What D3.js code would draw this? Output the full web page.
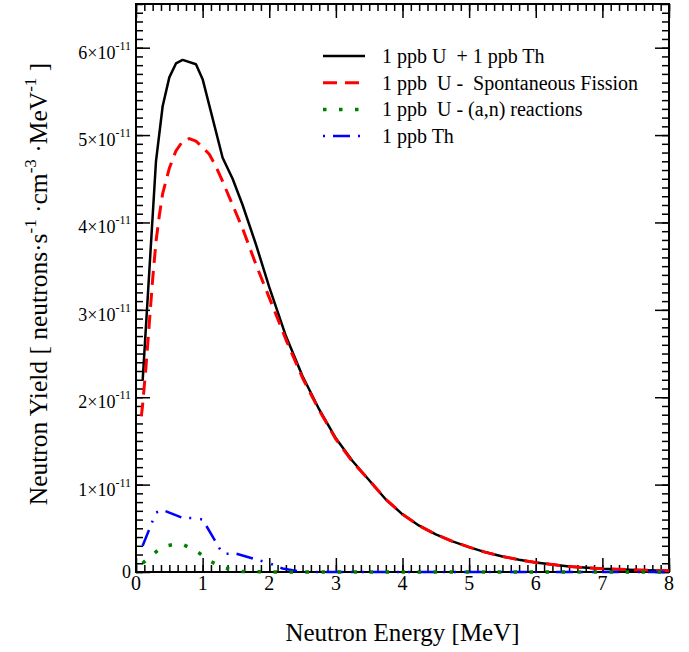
<!DOCTYPE html>
<html>
<head>
<meta charset="utf-8">
<script src="https://cdn.jsdelivr.net/npm/d3@7"></script>
<style>
    body { margin: 0; background: #fff; }
    svg { display: block; font-family: "Liberation Serif", "Times New Roman", serif; }
    text { white-space: pre; }
</style>
</head>
<body>
<svg id="chart" width="689" height="652"></svg>
<script>
// energies in MeV, yields in units of 1e-11 neutrons / (s cm^3 MeV)
const totalE = [0.1, 0.3, 0.4, 0.5, 0.6, 0.7, 0.9, 1.0, 1.3, 1.45, 1.6, 1.8, 2.0, 2.25, 2.5, 2.75, 3.0, 3.25, 3.5, 3.75, 4.0, 4.25, 4.5, 4.75, 5.0, 5.25, 5.5, 5.75, 6.0, 6.5, 7.0, 7.5, 8.0];
const totalY = [2.19, 4.7, 5.33, 5.66, 5.82, 5.86, 5.81, 5.64, 4.74, 4.5, 4.2, 3.75, 3.26, 2.7, 2.24, 1.86, 1.53, 1.27, 1.05, 0.83, 0.66, 0.53, 0.43, 0.35, 0.285, 0.225, 0.178, 0.14, 0.108, 0.062, 0.037, 0.024, 0.015];

const fissionE = [0.08, 0.1, 0.15, 0.2, 0.25, 0.3, 0.35, 0.4, 0.5, 0.6, 0.7, 0.8, 0.9, 1.0, 1.1, 1.2, 1.3, 1.45, 1.6, 1.8, 2.0, 2.25, 2.5, 2.75, 3.0, 3.25, 3.5, 3.75, 4.0, 4.25, 4.5, 4.75, 5.0, 5.25, 5.5, 5.75, 6.0, 6.5, 7.0, 7.5, 8.0];
const fissionY = [1.78, 1.92, 2.35, 2.85, 3.35, 3.78, 4.08, 4.33, 4.62, 4.82, 4.93, 4.96, 4.93, 4.86, 4.78, 4.64, 4.47, 4.2, 3.93, 3.52, 3.14, 2.66, 2.22, 1.85, 1.52, 1.26, 1.05, 0.83, 0.66, 0.53, 0.43, 0.35, 0.285, 0.225, 0.178, 0.14, 0.108, 0.062, 0.037, 0.024, 0.015];

const alphaE = [0.1, 0.2, 0.4, 0.6, 0.7, 0.9, 1.1, 1.3, 1.6, 2.0, 3.0, 4.0, 5.0, 6.0, 7.0, 8.0];
const alphaY = [0.1, 0.17, 0.29, 0.32, 0.315, 0.245, 0.13, 0.05, 0.005, 0, 0, 0, 0, 0, 0, 0];

const thoriumE = [0.1, 0.3, 0.4, 0.7, 0.9, 1.0, 1.3, 1.5, 2.0, 2.2, 2.5, 3.0, 4.0, 5.0, 6.0, 7.0, 8.0];
const thoriumY = [0.3, 0.68, 0.71, 0.62, 0.615, 0.6, 0.21, 0.21, 0.1, 0.04, 0, 0, 0, 0, 0, 0, 0];

const legendLabels = ["1 ppb U  + 1 ppb Th", "1 ppb  U -  Spontaneous Fission", "1 ppb  U - (a,n) reactions", "1 ppb Th"];
const xTicks = [0, 1, 2, 3, 4, 5, 6, 7, 8];
const yTicks = [0, 1, 2, 3, 4, 5, 6];

const svg = d3.select("#chart");
const plotLeft = 136, plotRight = 669, plotTop = 4, plotBottom = 572;

const x = d3.scaleLinear().domain([0, 8]).range([plotLeft, plotRight]);
const y = d3.scaleLinear().domain([0, 6.5]).range([plotBottom, plotTop]);

const series = [
    { e: totalE, v: totalY, color: "#000000", width: 2.5, dash: null },
    { e: fissionE, v: fissionY, color: "#ff0000", width: 3, dash: "14,8" },
    { e: alphaE, v: alphaY, color: "#008000", width: 3.5, dash: "3.5,12.5" },
    { e: thoriumE, v: thoriumY, color: "#0000ff", width: 2.5, dash: "17,8,2,9,2,8" }
];

// axes with inward ticks on all four sides
function drawAxis(axisFn, scale, translate, ticks, size) {
    const g = svg.append("g")
        .attr("transform", translate)
        .call(axisFn(scale).tickValues(ticks).tickSize(-size).tickFormat(""));
    g.select(".domain").remove();
    g.selectAll("line").attr("stroke", "#000").attr("stroke-width", 1.5);
    return g;
}

const xMinor = d3.range(0, 8.001, 0.125);
const yMinor = d3.range(0, 6.501, 0.1);

drawAxis(d3.axisBottom, x, `translate(0,${plotBottom})`, xMinor, 7);
drawAxis(d3.axisBottom, x, `translate(0,${plotBottom})`, xTicks, 14);
drawAxis(d3.axisTop, x, `translate(0,${plotTop})`, xMinor, 7);
drawAxis(d3.axisTop, x, `translate(0,${plotTop})`, xTicks, 14);
drawAxis(d3.axisLeft, y, `translate(${plotLeft},0)`, yMinor, 7);
drawAxis(d3.axisLeft, y, `translate(${plotLeft},0)`, yTicks, 14);
drawAxis(d3.axisRight, y, `translate(${plotRight},0)`, yMinor, 7);
drawAxis(d3.axisRight, y, `translate(${plotRight},0)`, yTicks, 14);

svg.append("rect")
    .attr("x", plotLeft).attr("y", plotTop)
    .attr("width", plotRight - plotLeft).attr("height", plotBottom - plotTop)
    .attr("fill", "none")
    .attr("stroke", "#000")
    .attr("stroke-width", 2);

// curves sit on top of the frame, like the original; clip lets the zero lines show
svg.append("clipPath").attr("id", "plotClip")
    .append("rect")
    .attr("x", plotLeft).attr("y", plotTop)
    .attr("width", plotRight - plotLeft + 3).attr("height", plotBottom - plotTop + 3);

const line = d3.line()
    .x(d => x(d[0]))
    .y(d => y(d[1]));

const curves = svg.append("g").attr("clip-path", "url(#plotClip)");
[0, 1, 3, 2].forEach(k => {
    const s = series[k];
    curves.append("path")
        .datum(s.e.map((e, i) => [e, s.v[i]]))
        .attr("d", line)
        .attr("fill", "none")
        .attr("stroke", s.color)
        .attr("stroke-width", s.width)
        .attr("stroke-dasharray", s.dash)
        .attr("stroke-linejoin", "round");
});

// tick labels
svg.append("g").selectAll("text")
    .data(xTicks)
    .join("text")
    .attr("x", d => x(d))
    .attr("y", 590)
    .attr("text-anchor", "middle")
    .attr("font-size", 20)
    .text(d => d);

const yLabels = svg.append("g").selectAll("text")
    .data(yTicks)
    .join("text")
    .attr("x", 131)
    .attr("y", d => y(d) + (d === 0 ? 6 : 11))
    .attr("text-anchor", "end")
    .attr("font-size", 18);
yLabels.filter(d => d === 0).text("0");
yLabels.filter(d => d !== 0).each(function (d) {
    const t = d3.select(this);
    t.append("tspan").text(d + "\u00d710");
    t.append("tspan").attr("font-size", 12).attr("dy", -9).text("-11");
});

// axis titles
svg.append("text")
    .attr("x", (plotLeft + plotRight) / 2)
    .attr("y", 641)
    .attr("text-anchor", "middle")
    .attr("font-size", 25)
    .text("Neutron Energy [MeV]");

const yTitle = svg.append("text")
    .attr("transform", `translate(47,${(plotTop + plotBottom) / 2 - 4}) rotate(-90)`)
    .attr("text-anchor", "middle")
    .attr("font-size", 25.5);
[["Neutron Yield [ neutrons\u00b7s", 0], ["-1", -11], [" \u00b7cm", 11], ["-3", -11], [" \u00b7MeV", 11], ["-1", -11], [" ]", 11]]
    .forEach(([txt, dy]) => {
        yTitle.append("tspan")
            .attr("dy", dy)
            .attr("font-size", dy < 0 ? 17 : 25.5)
            .text(txt);
    });

// legend
const legend = svg.append("g");
series.forEach((s, i) => {
    const ly = 56 + i * 26.7;
    legend.append("line")
        .attr("x1", 323).attr("x2", 365)
        .attr("y1", ly).attr("y2", ly)
        .attr("stroke", s.color)
        .attr("stroke-width", s.width)
        .attr("stroke-dasharray", s.dash)
        .attr("stroke-dashoffset", i === 3 ? 36 : 0);
    legend.append("text")
        .attr("x", 382)
        .attr("y", ly + 7)
        .attr("font-size", 20)
        .text(legendLabels[i]);
});
</script>
</body>
</html>
